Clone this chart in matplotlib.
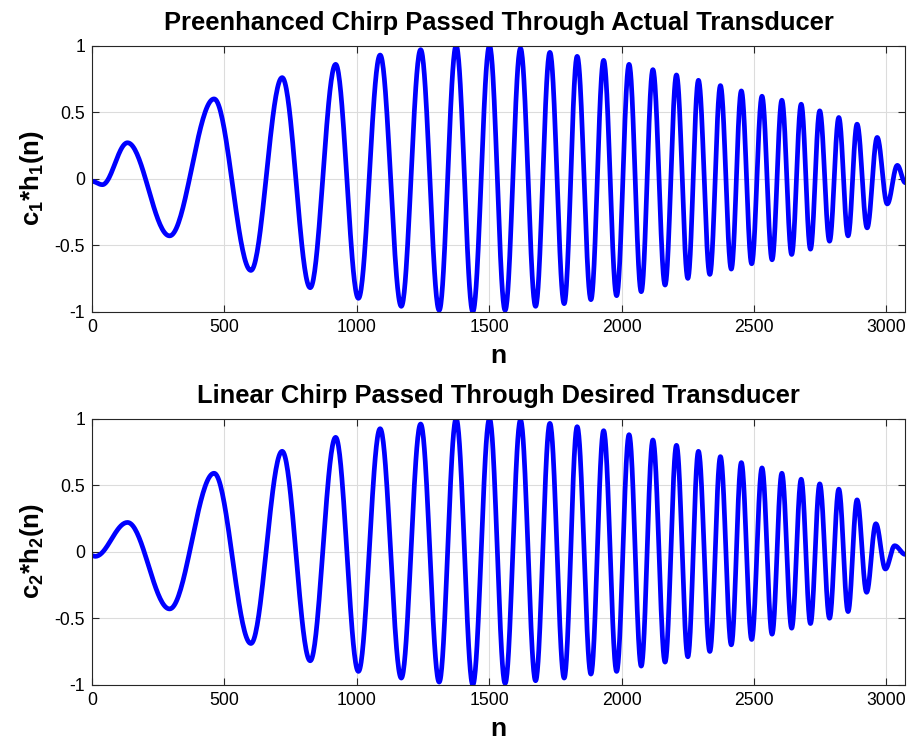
import numpy as np
import matplotlib
matplotlib.use("Agg")
import matplotlib.pyplot as plt

plt.rcParams['font.family'] = ['Liberation Sans', 'DejaVu Sans']
plt.rcParams['mathtext.fontset'] = 'custom'
plt.rcParams['mathtext.rm'] = 'Liberation Sans:bold'
plt.rcParams['mathtext.bf'] = 'Liberation Sans:bold'
plt.rcParams['mathtext.default'] = 'bf'

# turning points (sample index, value)
top_n = [0, 39, 134, 293, 461, 600, 718, 824, 920, 1006, 1088, 1168, 1241, 1311,
         1375, 1438, 1501, 1560, 1618, 1675, 1729, 1783, 1832, 1884, 1932, 1981,
         2028, 2074, 2118, 2164, 2207, 2250, 2290, 2333, 2373, 2414, 2452, 2491,
         2530, 2568, 2605, 2642, 2678, 2713, 2748, 2785, 2820, 2855, 2889, 2927,
         2965, 3003, 3041, 3071]
top_v = [-0.02, -0.045, 0.27, -0.43, 0.60, -0.69, 0.76, -0.82, 0.86, -0.90, 0.93,
         -0.96, 0.97, -0.99, 1.0, -1.0, 1.0, -0.99, 0.98, -0.96, 0.95, -0.94, 0.92,
         -0.91, 0.89, -0.88, 0.86, -0.85, 0.82, -0.80, 0.78, -0.75, 0.74, -0.72,
         0.70, -0.68, 0.66, -0.64, 0.62, -0.61, 0.59, -0.57, 0.56, -0.53, 0.51,
         -0.47, 0.46, -0.43, 0.41, -0.37, 0.31, -0.19, 0.10, -0.03]

bot_n = [0, 12, 134, 293, 461, 600, 718, 824, 920, 1006, 1088, 1168, 1241, 1311,
         1375, 1438, 1501, 1560, 1618, 1675, 1729, 1783, 1832, 1884, 1932, 1981,
         2028, 2074, 2118, 2164, 2207, 2250, 2290, 2333, 2373, 2414, 2452, 2491,
         2530, 2568, 2605, 2642, 2678, 2713, 2748, 2785, 2820, 2855, 2889, 2925,
         2960, 2996, 3031, 3071]
bot_v = [-0.03, -0.035, 0.22, -0.43, 0.59, -0.69, 0.755, -0.82, 0.86, -0.90, 0.925,
         -0.95, 0.96, -0.98, 1.0, -1.0, 1.0, -0.99, 0.99, -0.97, 0.965, -0.95, 0.94,
         -0.92, 0.91, -0.90, 0.88, -0.86, 0.84, -0.83, 0.80, -0.79, 0.755, -0.75,
         0.715, -0.70, 0.67, -0.66, 0.63, -0.62, 0.59, -0.575, 0.545, -0.54, 0.51,
         -0.50, 0.47, -0.45, 0.39, -0.305, 0.21, -0.13, 0.045, -0.02]

titles = ['Preenhanced Chirp Passed Through Actual Transducer',
          'Linear Chirp Passed Through Desired Transducer']
ylabels = ['c$_1$*h$_1$(n)', 'c$_2$*h$_2$(n)']
xticks = [0, 500, 1000, 1500, 2000, 2500, 3000]
yticks = [-1, -0.5, 0, 0.5, 1]
ytick_labels = ['-1', '-0.5', '0', '0.5', '1']


def smooth_wave(n_pts, v_pts):
    # half-cosine between turning points so the trace looks like a sampled wave
    xs, ys = [], []
    for k in range(len(n_pts) - 1):
        t = np.linspace(0, 1, 40, endpoint=False)
        xs.append(n_pts[k] + (n_pts[k + 1] - n_pts[k]) * t)
        ys.append(v_pts[k] + (v_pts[k + 1] - v_pts[k]) * (1 - np.cos(np.pi * t)) / 2)
    xs.append([n_pts[-1]])
    ys.append([v_pts[-1]])
    return np.concatenate(xs), np.concatenate(ys)


fig = plt.figure(figsize=(9.11, 7.42), dpi=100)
positions = [[0.101, 0.580, 0.8927, 0.3584], [0.101, 0.0772, 0.8927, 0.3585]]

for i, (nn, vv) in enumerate([(top_n, top_v), (bot_n, bot_v)]):
    ax = fig.add_axes(positions[i])
    x, y = smooth_wave(nn, vv)
    ax.plot(x, y, color='#0000ff', linewidth=3.4, solid_joinstyle='round')
    ax.set_xlim(0, 3071)
    ax.set_ylim(-1, 1)
    ax.set_xticks(xticks)
    ax.set_yticks(yticks)
    ax.set_yticklabels(ytick_labels)
    ax.grid(True, color='#dcdcdc', linewidth=0.8)
    ax.set_axisbelow(True)
    ax.tick_params(direction='in', length=5, width=0.8, top=True, right=True,
                   labelsize=12.7, colors='#262626', pad=5)
    ax.tick_params(labelcolor='black')
    for s in ax.spines.values():
        s.set_color('#262626')
        s.set_linewidth(0.8)
    ax.set_title(titles[i], fontsize=18.4, fontweight='bold', pad=11.5)
    ax.set_xlabel('n', fontsize=19, fontweight='bold', labelpad=6)
    ax.set_ylabel(ylabels[i], fontsize=18.5, fontweight='bold', labelpad=6)

fig.savefig('out.png', dpi=100)
